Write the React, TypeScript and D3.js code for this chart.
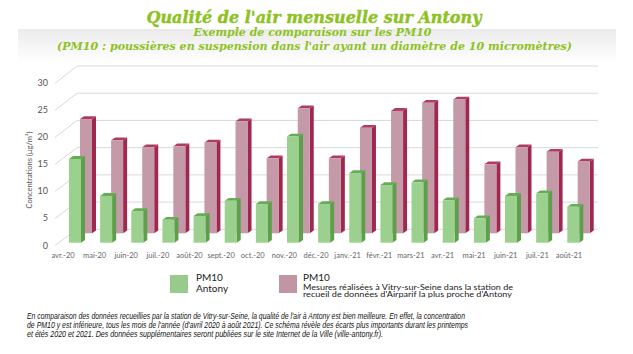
import React from "react";
import * as d3 from "d3";

const months = [
  "avr.-20", "mai-20", "juin-20", "juil.-20", "août-20", "sept.-20", "oct.-20",
  "nov.-20", "déc.-20", "janv.-21", "févr.-21", "mars-21", "avr.-21", "mai-21",
  "juin-21", "juil.-21", "août-21",
];
// PM10 Antony (µg/m³)
const antony = [15.4, 8.6, 5.8, 4.2, 4.9, 7.7, 7.1, 19.5, 7.1, 12.8, 10.6, 11.1, 7.8, 4.5, 8.6, 9.1, 6.6];
// PM10 Vitry-sur-Seine (µg/m³)
const vitry = [21.0, 17.1, 15.8, 16.0, 16.7, 20.6, 13.8, 23.0, 13.8, 19.4, 22.5, 24.0, 24.6, 12.7, 15.8, 15.0, 13.2];
const yTicks = [0, 5, 10, 15, 20, 25, 30];

const footnote = [
  "En comparaison des données recueillies par la station de Vitry-sur-Seine, la qualité de l'air à Antony est bien meilleure. En effet, la concentration",
  "de PM10 y est inférieure, tous les mois de l'année (d'avril 2020 à août 2021). Ce schéma révèle des écarts plus importants durant les printemps",
  "et étés 2020 et 2021. Des données supplémentaires seront publiées sur le site Internet de la Ville (ville-antony.fr).",
];

const W = 633;
const H = 354;
const GREEN = "#8dc21f";

export default function App() {
  // pseudo 3D: each depth plane has its own scales
  const xGreen = d3.scalePoint<string>().domain(months).range([69, 567.3]);
  const xPink = d3.scalePoint<string>().domain(months).range([80, 577.7]);
  const xLabel = d3.scalePoint<string>().domain(months).range([63, 569]);
  const yGreen = d3.scaleLinear().domain([0, 30]).range([242.7, 79.5]);
  const yPink = d3.scaleLinear().domain([0, 30]).range([233.3, 70.1]);
  const yFront = d3.scaleLinear().domain([0, 30]).range([245.5, 83.3]);
  const yBack = d3.scaleLinear().domain([0, 30]).range([229.3, 66]);

  const bw = 12;
  const dx = 4;
  const dy = 2.8;

  const bar = (x: number, y0: number, y1: number, c: { front: string; side: string; top: string }, key: string) => (
    <g key={key}>
      <path d={`M${x + bw},${y1} L${x + bw + dx},${y1 - dy} L${x + bw + dx},${y0 - dy} L${x + bw},${y0} Z`} fill={c.side} />
      <path d={`M${x},${y1} L${x + dx},${y1 - dy} L${x + bw + dx},${y1 - dy} L${x + bw},${y1} Z`} fill={c.top} />
      <rect x={x} y={y1} width={bw} height={y0 - y1} fill={c.front} />
    </g>
  );

  const pinkC = { front: "#c49aa9", side: "#a0284f", top: "#b03a62" };
  const greenC = { front: "#9bd08e", side: "#5e9f4c", top: "#64ad52" };

  return (
    <svg width={W} height={H} style={{ position: "absolute", left: 0, top: 0 }}>
      <defs>
        <linearGradient id="band" x1="0" y1="0" x2="0" y2="1">
          <stop offset="0" stopColor="#ebebeb" />
          <stop offset="1" stopColor="#ffffff" />
        </linearGradient>
      </defs>
      <rect width={W} height={H} fill="#fff" />
      <rect x={18} y={29} width={598} height={34} fill="url(#band)" />

      {/* titles */}
      <text x={314} y={23} textAnchor="middle" fontFamily="DejaVu Serif" fontWeight="bold" fontStyle="italic"
        fontSize={16.5} fill={GREEN} stroke={GREEN} strokeWidth={0.4} textLength={335} lengthAdjust="spacingAndGlyphs">
        Qualité de l'air mensuelle sur Antony
      </text>
      <text x={312.5} y={36} textAnchor="middle" fontFamily="DejaVu Serif" fontWeight="bold" fontStyle="italic"
        fontSize={11} fill={GREEN} textLength={238} lengthAdjust="spacingAndGlyphs">
        Exemple de comparaison sur les PM10
      </text>
      <text x={314.5} y={50} textAnchor="middle" fontFamily="DejaVu Serif" fontWeight="bold" fontStyle="italic"
        fontSize={11} fill={GREEN} textLength={515} lengthAdjust="spacingAndGlyphs">
        (PM10 : poussières en suspension dans l'air ayant un diamètre de 10 micromètres)
      </text>

      {/* grid */}
      {yTicks.map((t) => (
        <g key={t}>
          <line x1={55} y1={yFront(t)} x2={77} y2={yBack(t)} stroke="#d9d9d9" />
          <line x1={77} y1={yBack(t)} x2={598} y2={yBack(t)} stroke="#d9d9d9" />
          <text x={48} y={yFront(t) + 3} textAnchor="end" fontFamily="Lato" fontSize={9} fill="#555">
            {t}
          </text>
        </g>
      ))}
      <text transform="translate(32,170) rotate(-90)" textAnchor="middle" fontFamily="Lato" fontSize={7.5} fill="#555">
        Concentrations (µg/m³)
      </text>

      {/* bars */}
      {months.map((m, i) => bar(xPink(m)!, yPink(0), yPink(vitry[i]), pinkC, "p" + i))}
      {months.map((m, i) => bar(xGreen(m)!, yGreen(0), yGreen(antony[i]), greenC, "g" + i))}

      {months.map((m) => (
        <text key={m} x={xLabel(m)} y={258} textAnchor="middle" fontFamily="Lato" fontSize={7.5} fill="#666">
          {m}
        </text>
      ))}

      {/* legend */}
      <rect x={170} y={275} width={18} height={18} fill="#98ca8c" />
      <text x={196} y={281} fontFamily="Lato" fontSize={10} fill="#222">PM10</text>
      <text x={196} y={292} fontFamily="Lato" fontSize={10} fill="#222">Antony</text>
      <rect x={279} y={275} width={18} height={18} fill="#c096a4" />
      <text x={303} y={280.5} fontFamily="Lato" fontSize={10} fill="#222">PM10</text>
      <text x={303} y={289.5} fontFamily="Lato" fontSize={7} fill="#222" textLength={210} lengthAdjust="spacingAndGlyphs">
        Mesures réalisées à Vitry-sur-Seine dans la station de
      </text>
      <text x={303} y={296.5} fontFamily="Lato" fontSize={7} fill="#222" textLength={209} lengthAdjust="spacingAndGlyphs">
        recueil de données d'Airparif la plus proche d'Antony
      </text>

      {/* footnote */}
      {footnote.map((l, i) => (
        <text key={i} x={27} y={319 + i * 9.2} fontFamily="Liberation Sans" fontStyle="italic" fontSize={8.3}
          fill="#111" textLength={[438, 441, 356][i]} lengthAdjust="spacingAndGlyphs">
          {l}
        </text>
      ))}
    </svg>
  );
}
